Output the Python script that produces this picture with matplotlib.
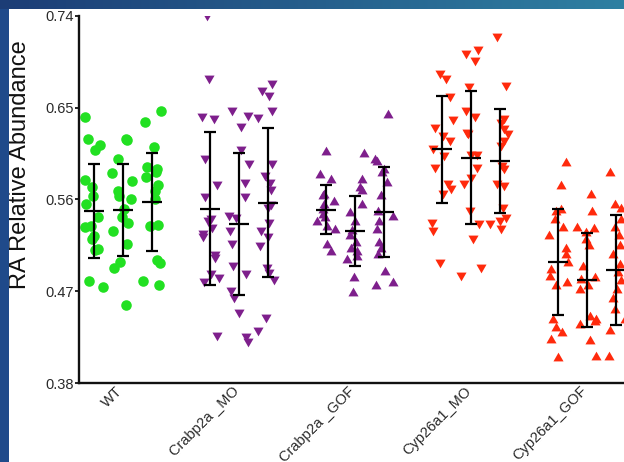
import numpy as np
import matplotlib
matplotlib.use("Agg")
import matplotlib.pyplot as plt
import matplotlib.transforms as mtransforms

plt.rcParams['font.family'] = ['Liberation Sans', 'DejaVu Sans']

categories = ["WT", "Crabp2a _MO", "Crabp2a _GOF", "Cyp26a1_MO", "Cyp26a1_GOF"]

wt_values = [
    [0.641, 0.619, 0.613, 0.608, 0.579, 0.572, 0.563, 0.556, 0.543, 0.533, 0.534,
     0.524, 0.521, 0.511, 0.512, 0.474, 0.480],
    [0.619, 0.618, 0.600, 0.586, 0.578, 0.568, 0.563, 0.560, 0.551, 0.543, 0.537,
     0.529, 0.516, 0.499, 0.493, 0.457],
    [0.647, 0.636, 0.611, 0.592, 0.590, 0.587, 0.582, 0.574, 0.568, 0.560, 0.535,
     0.534, 0.501, 0.498, 0.480, 0.476],
]
crabp2a_mo_values = [
    [0.741, 0.679, 0.642, 0.640, 0.601, 0.575, 0.563, 0.542, 0.540, 0.533, 0.527,
     0.524, 0.507, 0.504, 0.488, 0.484, 0.480, 0.427],
    [0.648, 0.643, 0.632, 0.609, 0.596, 0.577, 0.563, 0.545, 0.543, 0.530, 0.517,
     0.496, 0.488, 0.471, 0.465, 0.450, 0.426, 0.421],
    [0.674, 0.667, 0.662, 0.648, 0.641, 0.596, 0.584, 0.577, 0.570, 0.556, 0.553,
     0.538, 0.530, 0.524, 0.515, 0.494, 0.489, 0.482, 0.445, 0.432],
]
crabp2a_gof_values = [
    [0.607, 0.584, 0.579, 0.564, 0.563, 0.558, 0.555, 0.550, 0.545, 0.542, 0.538,
     0.533, 0.530, 0.515, 0.509],
    [0.605, 0.579, 0.571, 0.568, 0.555, 0.547, 0.538, 0.529, 0.524, 0.517, 0.512,
     0.509, 0.504, 0.501, 0.483, 0.468],
    [0.643, 0.599, 0.597, 0.589, 0.586, 0.576, 0.563, 0.548, 0.543, 0.538, 0.530,
     0.517, 0.512, 0.506, 0.489, 0.478, 0.475],
]
cyp26a1_mo_values = [
    [0.684, 0.679, 0.661, 0.639, 0.631, 0.623, 0.618, 0.610, 0.604, 0.592, 0.576,
     0.571, 0.566, 0.538, 0.530, 0.499],
    [0.707, 0.703, 0.697, 0.671, 0.648, 0.642, 0.626, 0.625, 0.605, 0.605, 0.592,
     0.582, 0.576, 0.550, 0.537, 0.522, 0.494, 0.486],
    [0.720, 0.672, 0.640, 0.636, 0.630, 0.625, 0.618, 0.613, 0.594, 0.591, 0.576,
     0.574, 0.553, 0.543, 0.540, 0.537, 0.532],
]
cyp26a1_gof_values = [
    [0.596, 0.573, 0.550, 0.548, 0.540, 0.532, 0.524, 0.512, 0.506, 0.498, 0.491,
     0.484, 0.478, 0.475, 0.442, 0.434, 0.429, 0.422, 0.405],
    [0.564, 0.548, 0.532, 0.531, 0.527, 0.520, 0.514, 0.494, 0.483, 0.481, 0.475,
     0.471, 0.445, 0.442, 0.440, 0.437, 0.421, 0.406],
    [0.586, 0.555, 0.551, 0.540, 0.532, 0.524, 0.514, 0.506, 0.496, 0.488, 0.480,
     0.471, 0.463, 0.452, 0.442, 0.431, 0.406],
]

means = [
    [0.549, 0.550, 0.558],
    [0.551, 0.536, 0.557],
    [0.550, 0.529, 0.548],
    [0.609, 0.601, 0.598],
    [0.499, 0.481, 0.491],
]
sds = [
    [0.046, 0.045, 0.048],
    [0.075, 0.070, 0.073],
    [0.024, 0.034, 0.044],
    [0.052, 0.065, 0.051],
    [0.052, 0.046, 0.054],
]

yticks = [0.38, 0.47, 0.56, 0.65, 0.74]

groups = [wt_values, crabp2a_mo_values, crabp2a_gof_values,
          cyp26a1_mo_values, cyp26a1_gof_values]
colors = ["#22E022", "#7E1F8C", "#7E1F8C", "#FF2A0C", "#FF2A0C"]
markers = ["o", (3, 0, 180), (3, 0, 0), (3, 0, 180), (3, 0, 0)]
msizes = [7.6, 8.4, 8.4, 8.4, 8.4]

W, H = 624, 462
fig = plt.figure(figsize=(W / 100, H / 100), dpi=100)
fig.patch.set_facecolor("white")

ax_left, ax_right = 79, 720
ax_top, ax_bottom = 15.7, 383.3
ax = fig.add_axes([ax_left / W, (H - ax_bottom) / H,
                   (ax_right - ax_left) / W, (ax_bottom - ax_top) / H])

unit = 29.05
x0 = 93.5
ax.set_xlim((ax_left - x0) / unit, (ax_right - x0) / unit)
ax.set_ylim(0.38, 0.74)

rng = np.random.default_rng(3)
for gi, reps in enumerate(groups):
    for ri, vals in enumerate(reps):
        pos = gi * 4 + ri
        jit = rng.uniform(-0.36, 0.36, size=len(vals))
        ax.plot(pos + jit, vals, linestyle="none", marker=markers[gi],
                ms=msizes[gi], color=colors[gi], mec="none", zorder=2)
        m, s = means[gi][ri], sds[gi][ri]
        ax.errorbar([pos], [m], yerr=[s], fmt="none", ecolor="black",
                    elinewidth=1.6, capsize=4.6, capthick=1.6, zorder=3)
        ax.plot([pos], [m], marker="_", ms=14, mew=1.6, color="black",
                linestyle="none", zorder=3)

ax.set_yticks(yticks)
ax.set_yticklabels([f"{t:.2f}" for t in yticks])
ax.set_xticks([gi * 4 + 1 for gi in range(len(categories))])
ax.set_xticklabels(categories, rotation=45, ha="right", va="center",
                   rotation_mode="anchor")
ax.tick_params(axis="y", length=3, width=1.2, pad=1, labelsize=10.5,
               labelcolor="#2a2a2a")
ax.tick_params(axis="x", length=0, pad=4, labelsize=10.5, labelcolor="#2a2a2a")
shift = mtransforms.ScaledTranslation(-2 / 100, 0, fig.dpi_scale_trans)
for lab in ax.get_xticklabels():
    lab.set_transform(lab.get_transform() + shift)
for side in ["top", "right"]:
    ax.spines[side].set_visible(False)
for side in ["left", "bottom"]:
    ax.spines[side].set_linewidth(1.7)
    ax.spines[side].set_color("#111111")

fig.text(20 / W, 1 - 164.5 / H, "RA Relative Abundance", rotation=90,
         ha="center", va="center", fontsize=17, color="#111111")

# slide background bands
band = 9
left_ax = fig.add_axes([0, 0, band / W, 1], zorder=10)
left_ax.set_axis_off()
left_ax.add_patch(plt.Rectangle((0, 0), 1, 1, color="#1f4a8a",
                                transform=left_ax.transAxes))
top_ax = fig.add_axes([0, 1 - band / H, 1, band / H], zorder=11)
top_ax.set_axis_off()
c1 = np.array([0x1c, 0x3d, 0x76]) / 255
c2 = np.array([0x2f, 0x80, 0xa2]) / 255
t = np.linspace(0, 1, 256)[None, :, None]
grad = c1 + (c2 - c1) * t
top_ax.imshow(grad, aspect="auto", extent=[0, 1, 0, 1])

fig.savefig("out.png", dpi=100)
